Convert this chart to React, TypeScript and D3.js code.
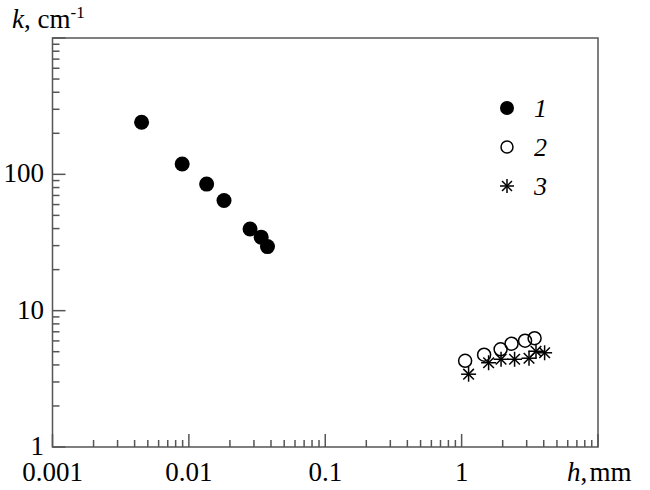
import React from "react";
import * as d3 from "d3";

// series (h in mm, k in cm^-1)
const s1H = [0.0045, 0.00893, 0.0135, 0.0181, 0.0281, 0.0339, 0.0377];
const s1K = [241, 119, 84.8, 64.3, 39.7, 34.6, 29.5];
const s2H = [1.061, 1.462, 1.931, 2.323, 2.918, 3.428];
const s2K = [4.29, 4.75, 5.21, 5.72, 6.02, 6.28];
const s3H = [1.125, 1.577, 1.946, 2.445, 3.12, 3.51, 4.06];
const s3K = [3.42, 4.15, 4.4, 4.4, 4.48, 5.04, 4.91];

const xTickLabels = ["0.001", "0.01", "0.1", "1"];
const yTickLabels = ["1", "10", "100"];
const legendLabels = ["1", "2", "3"];

const W = 650;
const H = 490;
const margin = { top: 38, right: 52, bottom: 43, left: 52.5 };
const serif = {
  fontFamily: "'Times New Roman', 'Liberation Serif', 'DejaVu Serif', Times, serif",
};

const Star = ({ x, y, r }: { x: number; y: number; r: number }) => {
  const d = r * Math.SQRT1_2;
  return (
    <g stroke="#000" strokeWidth={1.5}>
      <line x1={x - r} y1={y} x2={x + r} y2={y} />
      <line x1={x} y1={y - r} x2={x} y2={y + r} />
      <line x1={x - d} y1={y - d} x2={x + d} y2={y + d} />
      <line x1={x - d} y1={y + d} x2={x + d} y2={y - d} />
    </g>
  );
};

export default function App() {
  const x = d3
    .scaleLog()
    .domain([0.001, 10])
    .range([margin.left, W - margin.right]);
  const y = d3
    .scaleLog()
    .domain([1, 1000])
    .range([H - margin.bottom, margin.top]);

  const x0 = x.range()[0];
  const x1 = x.range()[1];
  const yb = y.range()[0];
  const yt = y.range()[1];

  const xTicks = x.ticks();
  const yTicks = y.ticks();
  const isMajor = (v: number) =>
    Math.abs(Math.log10(v) - Math.round(Math.log10(v))) < 1e-6;

  const legendX = 507;
  const legendY = [108, 147, 186];

  return (
    <svg
      width={W}
      height={H}
      style={{ position: "absolute", left: 0, top: 0, background: "#fff", ...serif }}
    >
      {/* ticks */}
      <g stroke="#555" strokeWidth={1.5}>
        {xTicks.map((t, i) => (
          <line key={"xt" + i} x1={x(t)} x2={x(t)} y1={yb} y2={yb - (isMajor(t) ? 13 : 7)} />
        ))}
        {yTicks.map((t, i) => (
          <line key={"yt" + i} y1={y(t)} y2={y(t)} x1={x0} x2={x0 + (isMajor(t) ? 13 : 7)} />
        ))}
      </g>
      <rect x={x0} y={yt} width={x1 - x0} height={yb - yt} fill="none" stroke="#555" strokeWidth={1.5} />

      {/* tick labels */}
      {xTickLabels.map((l) => (
        <text key={"xl" + l} x={x(+l)} y={481} fontSize={27} textAnchor="middle" style={serif}>
          {l}
        </text>
      ))}
      {yTickLabels.map((l) => (
        <text key={"yl" + l} x={44} y={y(+l) + 8} fontSize={27} textAnchor="end" style={serif}>
          {l}
        </text>
      ))}

      {/* axis titles */}
      <text x={567} y={481} fontSize={27} style={serif}>
        <tspan fontStyle="italic">h</tspan>
        <tspan>,&#8202;mm</tspan>
      </text>
      <text x={12} y={28} fontSize={27} style={serif}>
        <tspan fontStyle="italic">k</tspan>
        <tspan>, cm</tspan>
        <tspan fontSize={17} dy={-10}>-1</tspan>
      </text>

      {/* data */}
      {s1H.map((h, i) => (
        <circle key={"a" + i} cx={x(h)} cy={y(s1K[i])} r={7.5} fill="#000" />
      ))}
      {s2H.map((h, i) => (
        <circle key={"b" + i} cx={x(h)} cy={y(s2K[i])} r={6.5} fill="none" stroke="#000" strokeWidth={1.5} />
      ))}
      {s3H.map((h, i) => (
        <Star key={"c" + i} x={x(h)} y={y(s3K[i])} r={7.5} />
      ))}

      {/* legend */}
      <circle cx={legendX} cy={legendY[0]} r={7} fill="#000" />
      <circle cx={legendX} cy={legendY[1]} r={6} fill="none" stroke="#000" strokeWidth={1.5} />
      <Star x={legendX} y={legendY[2]} r={7} />
      {legendLabels.map((l, i) => (
        <text key={"lg" + l} x={534} y={legendY[i] + 9} fontSize={26} fontStyle="italic" style={serif}>
          {l}
        </text>
      ))}
    </svg>
  );
}
